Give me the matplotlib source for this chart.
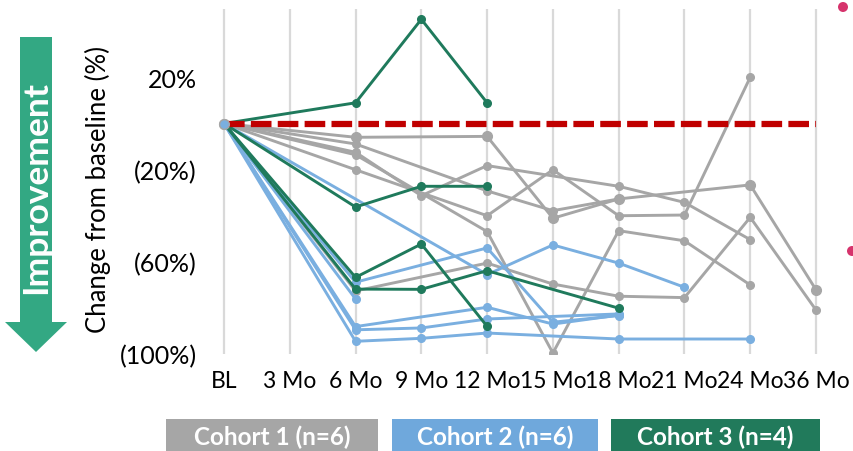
import numpy as np
import matplotlib
matplotlib.use("Agg")
import matplotlib.pyplot as plt
from matplotlib.patches import Polygon, Rectangle, Circle

nan = np.nan
categories = ['BL', '3 Mo', '6 Mo', '9 Mo', '12 Mo', '15 Mo', '18 Mo', '21 Mo', '24 Mo', '36 Mo']
y_ticks = [20, -20, -60, -100]
y_tick_labels = ['20%', '(20%)', '(60%)', '(100%)']

# Cohort 1 (gray)
c1_a = [0, nan, -6.0, nan, -5.6, -41.2, -32.8, nan, -26.7, -72.3]
c1_b = [0, nan, -12.5, -31.4, -18.3, nan, -27.3, -34.3, -50.5, nan]
c1_c = [0, nan, -8.9, nan, -29.3, -37.9, -32.8, nan, nan, nan]
c1_d = [0, nan, -20.1, nan, -40.1, -20.1, -40.1, -39.8, 20.1, nan]
c1_e = [0, nan, -13.6, nan, -47.0, -99.8, -46.6, -51.0, -70.2, nan]
c1_f = [0, nan, -72.8, nan, -60.7, -69.8, -75.1, -75.7, -40.8, -81.1]

# Cohort 2 (blue)
c2_a = [0, nan, -69.0, nan, -54.1, -86.4, -83.5, nan, nan, nan]
c2_b = [0, nan, nan, nan, -65.7, -52.8, -60.7, -71.2, nan, nan]
c2_c = [0, nan, -76.3, nan, nan, nan, nan, nan, nan, nan]
c2_d = [0, nan, -88.3, nan, -79.9, -87.2, -83.3, nan, nan, nan]
c2_e = [0, nan, -89.7, -88.9, -85.0, nan, -82.8, nan, nan, nan]
c2_f = [0, nan, -94.7, -93.4, -91.1, nan, -93.7, nan, -93.7, nan]

# Cohort 3 (green)
c3_a = [0, nan, 9.0, 45.3, 9.0, nan, nan, nan, nan, nan]
c3_b = [0, nan, -36.3, -27.3, -27.3, nan, nan, nan, nan, nan]
c3_c = [0, nan, -66.9, -52.4, -88.2, nan, nan, nan, nan, nan]
c3_d = [0, nan, -72.0, -72.1, -64.0, nan, -80.3, nan, nan, nan]

baseline = [0] * len(categories)

legend_labels = ['Cohort 1 (n=6)', 'Cohort 2 (n=6)', 'Cohort 3 (n=4)']

GRAY = '#A6A6A6'
BLUE = '#7AAFE0'
GREEN = '#1F7A5C'
W, H = 854, 452

fig = plt.figure(figsize=(W / 100, H / 100), dpi=100)
plt.rcParams['font.family'] = ['Lato', 'DejaVu Sans']

left_px, right_px, top_px, bot_px = 205, 849, 9.5, 354.5
ax = fig.add_axes([left_px / W, 1 - bot_px / H, (right_px - left_px) / W, (bot_px - top_px) / H])
x = np.arange(len(categories))
step = (816 - 224) / 9
ax.set_xlim((left_px - 224) / step, 9 + (right_px - 816) / step)
ax.set_ylim(-100, 50)
for s in ax.spines.values():
    s.set_visible(False)
ax.set_xticks(x)
ax.set_xticklabels(categories, fontsize=16.5)
ax.set_yticks(y_ticks)
ax.set_yticklabels(y_tick_labels, fontsize=18)
ax.tick_params(axis='both', length=0)
ax.tick_params(axis='y', pad=6)
ax.tick_params(axis='x', pad=12)
ax.xaxis.grid(True, color='#D9D9D9', lw=1.6)
ax.set_axisbelow(True)


def draw(series, color, big=False):
    y = np.array(series, dtype=float)
    m = ~np.isnan(y)
    ax.plot(x[m], y[m], color=color, lw=2.1, marker='o', ms=(7 if big else 5.5),
            mec=color, mfc=color, solid_joinstyle='round', zorder=3)


for i, s in enumerate([c1_a, c1_b, c1_c, c1_d, c1_e, c1_f]):
    draw(s, GRAY, big=(i == 0))
for s in [c2_a, c2_b, c2_c, c2_d, c2_e, c2_f]:
    draw(s, BLUE)
for s in [c3_a, c3_b, c3_c, c3_d]:
    draw(s, GREEN)

ax.plot(x, baseline, color='#C00000', lw=4.5, dashes=(3.3, 1.0), zorder=4)
ax.plot([0], [0], 'o', ms=7, mfc='#7AAFE0', mec=GRAY, mew=1, zorder=5)

fig.text(98 / W, 1 - 190 / H, 'Change from baseline (%)', rotation=90,
         ha='center', va='center', fontsize=18.5)

# Improvement arrow
def px(xp, yp):
    return (xp / W, 1 - yp / H)

arrow = Polygon([px(20, 38), px(52, 38), px(52, 323), px(67, 323), px(36, 353),
                 px(5, 323), px(20, 323)], closed=True, transform=fig.transFigure,
                facecolor='#33A883', edgecolor='none')
fig.patches.append(arrow)
fig.text(36.5 / W, 1 - 188 / H, 'Improvement', rotation=90, ha='center', va='center',
         color='white', fontsize=25.5, fontweight='bold')

# legend boxes
boxes = [(166, 378, GRAY), (392, 598, '#6FA8DC'), (611, 820, '#217A5B')]
for (x0, x1, col), lab in zip(boxes, legend_labels):
    r = Rectangle(px(x0, 452), (x1 - x0) / W, 32 / H, transform=fig.transFigure,
                  facecolor=col, edgecolor='none')
    fig.patches.append(r)
    fig.text((x0 + x1) / 2 / W, 1 - 437 / H, lab, ha='center', va='center',
             color='white', fontsize=17.5, fontweight='bold')

# cut-off bullet dots at the right edge
for cx, cy in [(843, 8), (852, 252)]:
    fig.patches.append(Circle((cx / 100, (H - cy) / 100), 0.05, transform=fig.dpi_scale_trans,
                              facecolor='#D6336C', edgecolor='none'))

fig.savefig('out.png', dpi=100)
